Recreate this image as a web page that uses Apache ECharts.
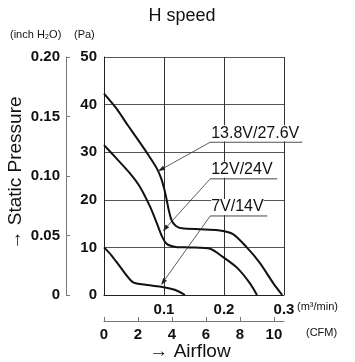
<!DOCTYPE html>
<html>
<head>
<meta charset="utf-8">
<script src="https://cdn.jsdelivr.net/npm/echarts@6/dist/echarts.min.js"></script>
<style>
  html, body { margin: 0; padding: 0; background: #fff; }
  #chart { width: 355px; height: 362px; }
</style>
</head>
<body>
<div id="chart"></div>
<script>
// airflow (m3/min) and static pressure (Pa)
const flowHigh = [0, 0.02, 0.04, 0.06, 0.075, 0.088, 0.095, 0.1, 0.104, 0.108, 0.113, 0.12, 0.13, 0.16, 0.19, 0.215, 0.238, 0.26, 0.282, 0.297];
const presHigh = [42.3, 39.3, 35.6, 32.0, 29.2, 26.6, 24.6, 22.5, 20.3, 17.8, 15.6, 14.5, 14.0, 13.8, 13.6, 12.8, 10, 6.7, 2.5, 0];

const flowMid = [0, 0.02, 0.043, 0.06, 0.077, 0.088, 0.097, 0.105, 0.12, 0.143, 0.177, 0.198, 0.222, 0.243, 0.255];
const presMid = [31.5, 28.8, 25.6, 22.7, 18.5, 15.1, 12.2, 10.7, 10.1, 10, 9.7, 8, 5.7, 2.5, 0];

const flowLow = [0, 0.012, 0.027, 0.048, 0.072, 0.097, 0.118, 0.135];
const presLow = [10, 8.4, 5.9, 2.7, 2.1, 1.7, 1.1, 0];

const inchTicks = [0, 0.05, 0.10, 0.15, 0.20];
const cfmTicks = [0, 2, 4, 6, 8, 10];

// labels: text, where the underline starts, where the arrow points (data coords)
const labelNames = ['13.8V/27.6V', '12V/24V', '7V/14V'];
const labelAnchor = [[0.177, 32.1], [0.177, 24.4], [0.177, 16.6]];
const labelTip = [[0.09, 26.0], [0.098, 13.4], [0.095, 2.1]];
const labelWidth = [92, 67, 57];

const FONT = "'Liberation Sans', Arial, sans-serif";

const pairs = (xs, ys) => xs.map((x, i) => [x, ys[i]]);

const chart = echarts.init(document.getElementById('chart'));

const curve = (name, data) => ({
    name: name,
    type: 'line',
    data: data,
    smooth: 0.25,
    showSymbol: false,
    lineStyle: { color: '#111', width: 2 },
    z: 5
});

chart.setOption({
    animation: false,
    grid: { left: 104, right: 71, top: 57, bottom: 67 },
    xAxis: [
        {
            type: 'value', min: 0, max: 0.3, interval: 0.1,
            axisLine: { lineStyle: { color: '#222', width: 1 } },
            axisTick: { show: false },
            splitLine: { lineStyle: { color: '#333', width: 1 } },
            axisLabel: {
                margin: 7, color: '#111', fontFamily: FONT, fontWeight: 'bold', fontSize: 15,
                formatter: v => v === 0 ? '' : v.toFixed(1)
            }
        },
        {
            type: 'value', position: 'bottom', offset: 26, min: 0, max: 0.3 * 35.315,
            axisLine: { show: true, onZero: false, lineStyle: { color: '#777', width: 1 } },
            axisTick: { show: true, inside: true, length: 4, customValues: cfmTicks, lineStyle: { color: '#777' } },
            splitLine: { show: false },
            axisLabel: {
                margin: 6, color: '#111', fontFamily: FONT, fontWeight: 'bold', fontSize: 15,
                customValues: cfmTicks
            }
        }
    ],
    yAxis: [
        {
            type: 'value', min: 0, max: 50, interval: 10,
            axisLine: { show: true, lineStyle: { color: '#222', width: 1 } },
            axisTick: { show: false },
            splitLine: { lineStyle: { color: '#555', width: 1 } },
            axisLabel: { margin: 7, color: '#111', fontFamily: FONT, fontWeight: 'bold', fontSize: 15 }
        },
        {
            type: 'value', position: 'left', offset: 38, min: 0, max: 0.2, interval: 0.05,
            axisLine: { show: true, onZero: false, lineStyle: { color: '#777', width: 1 } },
            axisTick: { show: true, inside: true, length: 4, customValues: inchTicks, lineStyle: { color: '#777' } },
            splitLine: { show: false },
            axisLabel: {
                margin: 6, color: '#111', fontFamily: FONT, fontWeight: 'bold', fontSize: 15,
                customValues: inchTicks,
                formatter: v => v === 0 ? '0' : v.toFixed(2)
            }
        }
    ],
    series: [
        curve(labelNames[0], pairs(flowHigh, presHigh)),
        curve(labelNames[1], pairs(flowMid, presMid)),
        curve(labelNames[2], pairs(flowLow, presLow))
    ]
});

// annotations and free text
const graphics = [
    { type: 'text', x: 182, y: 16, style: { text: 'H speed', font: '18px ' + FONT, fill: '#111', align: 'center', verticalAlign: 'middle' } },
    { type: 'text', x: 10, y: 29, style: { text: '(inch H\u2082O)', font: '11px ' + FONT, fill: '#111' } },
    { type: 'text', x: 74, y: 29, style: { text: '(Pa)', font: '11px ' + FONT, fill: '#111' } },
    { type: 'text', x: 297, y: 301, style: { text: '(m\u00b3/min)', font: '11px ' + FONT, fill: '#111' } },
    { type: 'text', x: 306, y: 327, style: { text: '(CFM)', font: '11px ' + FONT, fill: '#111' } },
    { type: 'text', x: 190, y: 352, style: { text: '\u2192 Airflow', font: '19px ' + FONT, fill: '#111', align: 'center', verticalAlign: 'middle' } },
    { type: 'text', x: 16, y: 173, rotation: Math.PI / 2, style: { text: '\u2192 Static Pressure', font: '19px ' + FONT, fill: '#111', align: 'center', verticalAlign: 'middle' } }
];

labelNames.forEach((name, i) => {
    const a = chart.convertToPixel({ xAxisIndex: 0, yAxisIndex: 0 }, labelAnchor[i]);
    const t = chart.convertToPixel({ xAxisIndex: 0, yAxisIndex: 0 }, labelTip[i]);
    const ang = Math.atan2(t[1] - a[1], t[0] - a[0]);
    const hl = 7, hw = 2.3;
    const bx = t[0] - hl * Math.cos(ang), by = t[1] - hl * Math.sin(ang);
    graphics.push(
        { type: 'line', shape: { x1: a[0], y1: a[1], x2: a[0] + labelWidth[i], y2: a[1] }, style: { stroke: '#444', lineWidth: 1 }, z: 10 },
        { type: 'line', shape: { x1: a[0], y1: a[1], x2: bx, y2: by }, style: { stroke: '#333', lineWidth: 0.8 }, z: 10 },
        {
            type: 'polygon', z: 10,
            shape: { points: [t, [bx + hw * Math.sin(ang), by - hw * Math.cos(ang)], [bx - hw * Math.sin(ang), by + hw * Math.cos(ang)]] },
            style: { fill: '#222' }
        },
        { type: 'text', x: a[0] + 1, y: a[1] - 1, z: 10, style: { text: name, font: '16px ' + FONT, fill: '#111', verticalAlign: 'bottom', backgroundColor: '#fff' } }
    );
});

chart.setOption({ graphic: graphics });
</script>
</body>
</html>
